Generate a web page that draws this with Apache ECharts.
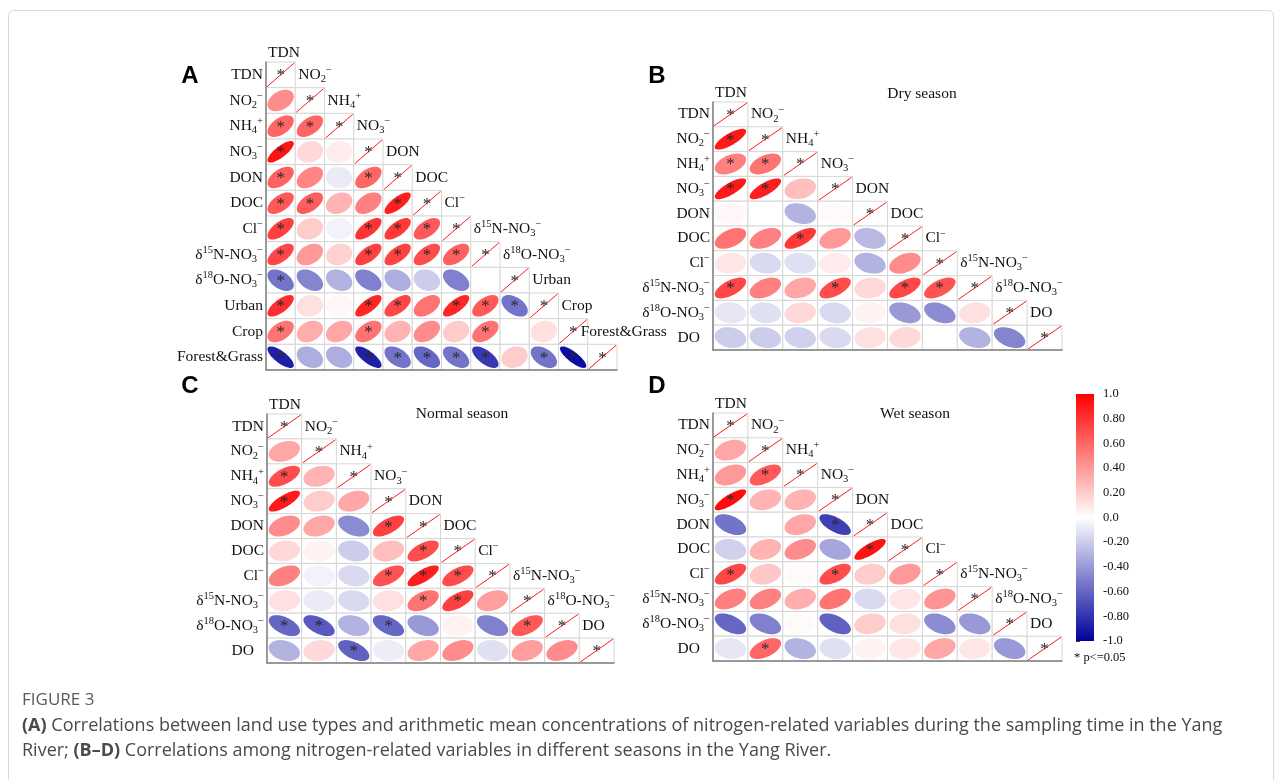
<!DOCTYPE html>
<html><head><meta charset="utf-8">
<script src="https://cdn.jsdelivr.net/npm/echarts@6/dist/echarts.min.js"></script>
<style>html,body{margin:0;padding:0;background:#fff}#c{width:1282px;height:780px}</style>
</head><body><div id="c"></div>
<script>
// ---------- data ----------
const varsA = ['TDN','NO2','NH4','NO3','DON','DOC','Cl','d15N','d18O','Urban','Crop','Forest&Grass'];
const varsS = ['TDN','NO2','NH4','NO3','DON','DOC','Cl','d15N','d18O','DO'];

// A: land use vs mean concentrations (lower triangle, row by row, without diagonal)
const rA = [
  [],
  [0.45],
  [0.60, 0.60],
  [0.92, 0.15, 0.07],
  [0.62, 0.48, -0.08, 0.60],
  [0.65, 0.63, 0.30, 0.50, 0.88],
  [0.75, 0.20, -0.05, 0.80, 0.78, 0.65],
  [0.72, 0.40, 0.18, 0.75, 0.74, 0.70, 0.62],
  [-0.55, -0.48, -0.30, -0.50, -0.32, -0.20, -0.50, 0.00],
  [0.82, 0.12, 0.03, 0.85, 0.72, 0.55, 0.85, 0.65, -0.55],
  [0.55, 0.32, 0.35, 0.55, 0.30, 0.45, 0.20, 0.55, 0.00, 0.12],
  [-0.88, -0.32, -0.32, -0.88, -0.55, -0.60, -0.55, -0.78, 0.20, -0.55, -0.95]
];
const sA = [
  [], [0], [1,1], [1,0,0], [1,0,0,1], [1,1,0,0,1], [1,0,0,1,1,1], [1,0,0,1,1,1,1],
  [1,0,0,0,0,0,0,0], [1,0,0,1,1,0,1,1,1], [1,0,0,1,0,0,0,1,0,0], [1,0,0,1,1,1,1,1,0,1,1]
];
// B: dry season
const rB = [
  [],
  [0.90],
  [0.50, 0.55],
  [0.90, 0.88, 0.25],
  [0.03, 0.00, -0.30, 0.02],
  [0.55, 0.50, 0.78, 0.40, -0.28],
  [0.10, -0.15, -0.12, 0.08, -0.30, 0.45],
  [0.72, 0.50, 0.35, 0.70, 0.15, 0.72, 0.68],
  [-0.10, -0.12, 0.15, -0.15, 0.05, -0.40, -0.45, 0.12],
  [-0.20, -0.20, -0.18, -0.15, 0.12, 0.15, 0.00, -0.30, -0.48]
];
const sB = [
  [], [1], [1,1], [1,1,0], [0,0,0,0], [0,0,1,0,0], [0,0,0,0,0,0], [1,0,0,1,0,1,1],
  [0,0,0,0,0,0,0,0], [0,0,0,0,0,0,0,0,0]
];
// C: normal season
const rC = [
  [],
  [0.35],
  [0.70, 0.30],
  [0.90, 0.20, 0.35],
  [0.45, 0.35, -0.45, 0.75],
  [0.15, 0.05, -0.20, 0.25, 0.70],
  [0.50, -0.05, -0.15, 0.68, 0.88, 0.70],
  [0.12, -0.08, -0.15, 0.12, 0.55, 0.75, 0.38],
  [-0.60, -0.65, -0.30, -0.60, -0.40, 0.05, -0.50, 0.65],
  [-0.30, 0.15, -0.62, -0.07, 0.35, 0.45, -0.12, 0.38, 0.45]
];
const sC = [
  [], [0], [1,0], [1,0,0], [0,0,0,1], [0,0,0,0,1], [0,0,0,1,1,1], [0,0,0,0,1,1,0],
  [1,1,0,1,0,0,0,1], [0,0,1,0,0,0,0,0,0]
];
// D: wet season
const rD = [
  [],
  [0.35],
  [0.40, 0.65],
  [0.95, 0.30, 0.30],
  [-0.55, 0.00, 0.35, -0.75],
  [-0.18, 0.30, 0.45, -0.35, 0.92],
  [0.72, 0.22, 0.02, 0.70, 0.20, 0.40],
  [0.50, 0.50, 0.32, 0.55, -0.15, 0.10, 0.42],
  [-0.60, -0.50, 0.02, -0.62, 0.20, 0.12, -0.45, -0.40],
  [-0.10, 0.60, -0.30, -0.12, 0.05, 0.10, 0.35, 0.10, -0.40]
];
const sD = [
  [], [0], [0,1], [1,0,0], [0,0,0,1], [0,0,0,0,1], [1,0,0,1,0,0], [0,0,0,0,0,0,0],
  [0,0,0,0,0,0,0,0], [0,1,0,0,0,0,0,0,0]
];
const colorbarTicks = ['1.0','0.80','0.60','0.40','0.20','0.0','-0.20','-0.40','-0.60','-0.80','-1.0'];

// ---------- styling helpers ----------
const SERIF = '"Liberation Serif","Times New Roman",serif';
const FS = 15.5;
const rich = {
  n:   {fontFamily: SERIF, fontSize: FS, color: '#111', lineHeight: 20, verticalAlign: 'middle'},
  sub: {fontFamily: SERIF, fontSize: 10.5, color: '#111', lineHeight: 10, verticalAlign: 'bottom'},
  sup: {fontFamily: SERIF, fontSize: 10.5, color: '#111', lineHeight: 10, verticalAlign: 'top'},
  pad: {fontFamily: SERIF, fontSize: FS, width: 10}
};
const LBL = {
  'TDN': '{n|TDN}',
  'NO2': '{n|NO}{sub|2}{sup|−}',
  'NH4': '{n|NH}{sub|4}{sup|+}',
  'NO3': '{n|NO}{sub|3}{sup|−}',
  'DON': '{n|DON}', 'DOC': '{n|DOC}',
  'Cl': '{n|Cl}{sup|−}',
  'd15N': '{n|δ}{sup|15}{n|N-NO}{sub|3}{sup|−}',
  'd18O': '{n|δ}{sup|18}{n|O-NO}{sub|3}{sup|−}',
  'Urban': '{n|Urban}', 'Crop': '{n|Crop}', 'Forest&Grass': '{n|Forest&Grass}', 'DO': '{n|DO}'
};
const NEG = [0, 0, 156];
const SHAPE_K = 0.85; // eccentricity scaling of the ellipse glyph
function colorOf(r) {
  let c;
  if (r >= 0) { const a = Math.min(1, r); c = [255, Math.round(255*(1-a)), Math.round(255*(1-a))]; }
  else { const a = Math.min(1, -r); c = [Math.round(255 + (NEG[0]-255)*a), Math.round(255 + (NEG[1]-255)*a), Math.round(255 + (NEG[2]-255)*a)]; }
  return 'rgb(' + c.join(',') + ')';
}
function ellipsePts(cx, cy, hw, hh, r) {
  const d = Math.acos(Math.max(-1, Math.min(1, r * SHAPE_K)));
  const pts = [];
  for (let k = 0; k < 72; k++) {
    const t = 2 * Math.PI * k / 72;
    pts.push([cx + hw * Math.cos(t + d/2), cy - hh * Math.cos(t - d/2)]);
  }
  return pts;
}
function buildCells(r, s) {
  const out = [];
  for (let i = 0; i < r.length; i++) {
    for (let j = 0; j < i; j++) out.push([j, i, r[i][j], s[i][j]]);
    out.push([i, i, 1, 1]);
  }
  return out;
}
function renderCell(params, api) {
  const j = api.value(0), i = api.value(1), r = api.value(2), sg = api.value(3);
  const c = api.coord([j, i]);
  const sz = api.size([1, 1]);
  const w = sz[0], h = sz[1];
  const x0 = c[0] - w/2, y0 = c[1] - h/2;
  const ch = [{type: 'rect', shape: {x: x0, y: y0, width: w, height: h}, style: {fill: '#fff', stroke: '#d6d6d6', lineWidth: 1}}];
  if (i === j) {
    ch.push({type: 'line', shape: {x1: x0 + 1, y1: y0 + h - 1, x2: x0 + w - 1, y2: y0 + 1}, style: {stroke: '#ff1a1a', lineWidth: 1}});
  } else {
    ch.push({type: 'polygon', shape: {points: ellipsePts(c[0], c[1], w * 0.45, h * 0.42, r)}, style: {fill: colorOf(r)}});
  }
  if (sg) ch.push({type: 'text', x: c[0], y: c[1] + 1, style: {text: '*', fontFamily: SERIF, fontSize: 17, fill: '#2a2a2a', align: 'center', verticalAlign: 'middle'}});
  return {type: 'group', children: ch};
}
function makeColLabelRenderer(vars, shifts) {
  return function (params, api) {
    const j = api.value(0);
    const sz = api.size([1, 1]);
    const w = sz[0], h = sz[1];
    let x, y;
    if (j === 0) { const c = api.coord([0, 0]); x = c[0] - w/2 + 2; y = c[1] - h * 0.86; }
    else { const c = api.coord([j, j - 1]); x = c[0] - w/2 + 3; y = c[1]; }
    x += (shifts && shifts[vars[j]]) || 0;
    return {type: 'text', x: x, y: y, style: {text: LBL[vars[j]], rich: rich, align: 'left', verticalAlign: 'middle', fontFamily: SERIF, fontSize: FS, fill: '#111'}};
  };
}
const rowLabel = v => v === 'DO' ? LBL[v] + '{pad| }' : LBL[v];

const grids = [
  {left: 266, top: 62, width: 351, height: 308},
  {left: 713, top: 102, width: 349, height: 248},
  {left: 267, top: 414, width: 347, height: 249},
  {left: 713, top: 413, width: 349, height: 248},
  {left: 1076, top: 394, width: 18, height: 247}
];
const panels = [
  {vars: varsA, r: rA, s: sA, shifts: {'Forest&Grass': -10}},
  {vars: varsS, r: rB, s: sB},
  {vars: varsS, r: rC, s: sC},
  {vars: varsS, r: rD, s: sD}
];
const axisLine = {show: true, lineStyle: {color: '#7f7f7f', width: 1.5}};
const xAxes = [], yAxes = [], series = [];
panels.forEach((p, k) => {
  xAxes.push({type: 'category', gridIndex: k, data: p.vars, z: 10, axisLine: axisLine, axisTick: {show: false}, axisLabel: {show: false}, splitLine: {show: false}});
  yAxes.push({type: 'category', gridIndex: k, data: p.vars, inverse: true, z: 10, axisLine: axisLine, axisTick: {show: false}, splitLine: {show: false},
    axisLabel: {show: true, margin: 3, formatter: rowLabel, rich: rich}});
  series.push({type: 'custom', xAxisIndex: k, yAxisIndex: k, renderItem: renderCell, data: buildCells(p.r, p.s), silent: true});
  series.push({type: 'custom', xAxisIndex: k, yAxisIndex: k, renderItem: makeColLabelRenderer(p.vars, p.shifts), data: p.vars.map((v, j) => [j, j]), silent: true, z: 11});
});
// colorbar
xAxes.push({type: 'value', gridIndex: 4, min: 0, max: 1, show: false});
yAxes.push({type: 'value', gridIndex: 4, min: -1, max: 1, interval: 0.2, position: 'right',
  axisLine: {show: false}, axisTick: {show: true, length: 4, lineStyle: {color: '#444'}}, splitLine: {show: false},
  axisLabel: {margin: 9, fontFamily: SERIF, fontSize: 12.5, color: '#111',
    formatter: v => colorbarTicks[Math.round((1 - v) / 0.2)]}});
series.push({type: 'custom', xAxisIndex: 4, yAxisIndex: 4, data: [[0, 0]], silent: true,
  renderItem: function (params, api) {
    const p1 = api.coord([0, 1]), p2 = api.coord([1, -1]);
    return {type: 'rect', shape: {x: p1[0], y: p1[1], width: p2[0] - p1[0], height: p2[1] - p1[1]},
      style: {fill: {type: 'linear', x: 0, y: 0, x2: 0, y2: 1, colorStops: [
        {offset: 0, color: colorOf(1)}, {offset: 0.5, color: colorOf(0)}, {offset: 1, color: colorOf(-1)}]}}};
  }});

const SANS = '"Liberation Sans",Arial,sans-serif';
const CAP = '"Open Sans","Noto Sans",sans-serif';
const letter = (t, x, y) => ({type: 'text', x: x, y: y, style: {text: t, font: 'bold 24px ' + SANS, fill: '#000', align: 'center', verticalAlign: 'middle'}});
const title = (t, x, y) => ({type: 'text', x: x, y: y, style: {text: t, fontFamily: SERIF, fontSize: FS, fill: '#111', align: 'center', verticalAlign: 'middle'}});
const capRich = {b: {fontFamily: CAP, fontSize: 18, fontWeight: 'bold', fill: '#4a4a4a'}};
const graphic = [
  {type: 'rect', shape: {x: 8.5, y: 10.5, width: 1265, height: 820, r: 5}, style: {fill: 'none', stroke: '#d9d9d9', lineWidth: 1}, silent: true, z: -10},
  letter('A', 190, 76), letter('B', 657, 76), letter('C', 190, 386), letter('D', 657, 386),
  title('Dry season', 922, 94), title('Normal season', 462, 414), title('Wet season', 915, 414),
  {type: 'text', x: 1074, y: 658, style: {text: '* p<=0.05', fontFamily: SERIF, fontSize: 12.5, fill: '#111', align: 'left', verticalAlign: 'middle'}},
  {type: 'text', x: 22, y: 700, style: {text: 'FIGURE 3', fontFamily: CAP, fontSize: 17, fill: '#5a5a5a', align: 'left', verticalAlign: 'middle'}},
  {type: 'text', x: 22, y: 726, style: {text: '{b|(A)} Correlations between land use types and arithmetic mean concentrations of nitrogen-related variables during the sampling time in the Yang',
    fontFamily: CAP, fontSize: 18, fill: '#4a4a4a', align: 'left', verticalAlign: 'middle', rich: capRich}},
  {type: 'text', x: 22, y: 751, style: {text: 'River; {b|(B–D)} Correlations among nitrogen-related variables in different seasons in the Yang River.',
    fontFamily: CAP, fontSize: 18, fill: '#4a4a4a', align: 'left', verticalAlign: 'middle', rich: capRich}}
];

const chart = echarts.init(document.getElementById('c'), null, {renderer: 'canvas'});
chart.setOption({
  animation: false,
  backgroundColor: '#fff',
  grid: grids,
  xAxis: xAxes,
  yAxis: yAxes,
  series: series,
  graphic: graphic
});
</script></body></html>
